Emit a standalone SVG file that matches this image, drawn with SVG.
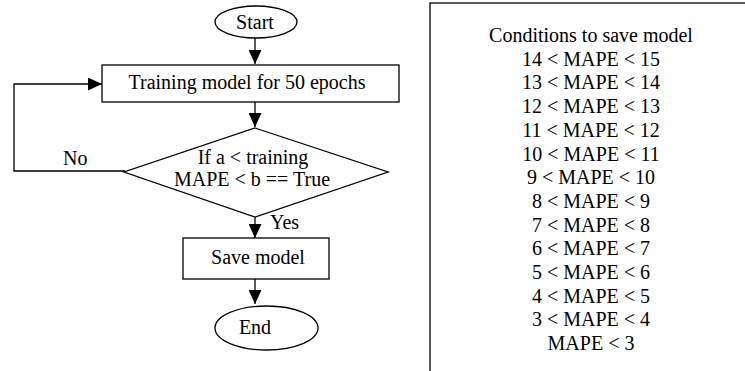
<svg xmlns="http://www.w3.org/2000/svg" width="745" height="371" viewBox="0 0 745 371" font-family="'Liberation Serif', 'DejaVu Serif', serif" font-size="20">
<style>
.s{fill:#fff;stroke:#000;stroke-width:1.3}
.c{fill:none;stroke:#000;stroke-width:1.3}
text{font-family:'Liberation Serif','DejaVu Serif',serif;font-size:20px;fill:#000}
.m{text-anchor:middle}
</style>
<defs>
<marker id="ah" markerWidth="14" markerHeight="13" refX="14" refY="6.5" orient="auto" markerUnits="userSpaceOnUse">
<path d="M0,0 L14,6.5 L0,13 Z" fill="#000"/>
</marker>
</defs>
<rect width="745" height="371" fill="#fff"/>
<g id="connectors">
<line class="c" x1="255" y1="38" x2="255" y2="64" marker-end="url(#ah)"/>
<line class="c" x1="255" y1="102" x2="255" y2="127" marker-end="url(#ah)"/>
<line class="c" x1="255" y1="217" x2="255" y2="238" marker-end="url(#ah)"/>
<line class="c" x1="255" y1="279" x2="255" y2="304" marker-end="url(#ah)"/>
<polyline class="c" points="125,171 14,171 14,84 102,84" marker-end="url(#ah)"/>
<text x="63" y="165">No</text>
<text x="270" y="229">Yes</text>
</g>
<g id="start">
<ellipse class="s" cx="256" cy="22" rx="41" ry="16"/>
<text class="m" x="255" y="29">Start</text>
</g>
<g id="train">
<rect class="s" x="102" y="65" width="297" height="37"/>
<text class="m" x="247" y="89">Training model for 50 epochs</text>
</g>
<g id="decision">
<polygon class="s" points="255,128 388,172 255,217 124,172"/>
<text class="m" x="253" y="164">If a &lt; training</text>
<text class="m" x="252" y="186">MAPE &lt; b == True</text>
</g>
<g id="save">
<rect class="s" x="183" y="238" width="146" height="41"/>
<text class="m" x="258" y="264">Save model</text>
</g>
<g id="end">
<ellipse class="s" cx="266.5" cy="328" rx="51.5" ry="22"/>
<text class="m" x="255" y="334">End</text>
</g>
<g id="conditions">
<rect class="s" x="430" y="3" width="340" height="390"/>
<text class="m" x="591" y="42">Conditions to save model</text>
<text class="m" x="591" y="65.7">14 &lt; MAPE &lt; 15</text>
<text class="m" x="591" y="89.4">13 &lt; MAPE &lt; 14</text>
<text class="m" x="591" y="113.1">12 &lt; MAPE &lt; 13</text>
<text class="m" x="591" y="136.8">11 &lt; MAPE &lt; 12</text>
<text class="m" x="591" y="160.5">10 &lt; MAPE &lt; 11</text>
<text class="m" x="591" y="184.2">9 &lt; MAPE &lt; 10</text>
<text class="m" x="591" y="207.9">8 &lt; MAPE &lt; 9</text>
<text class="m" x="591" y="231.6">7 &lt; MAPE &lt; 8</text>
<text class="m" x="591" y="255.3">6 &lt; MAPE &lt; 7</text>
<text class="m" x="591" y="279">5 &lt; MAPE &lt; 6</text>
<text class="m" x="591" y="302.7">4 &lt; MAPE &lt; 5</text>
<text class="m" x="591" y="326.4">3 &lt; MAPE &lt; 4</text>
<text class="m" x="591" y="350.1">MAPE &lt; 3</text>
</g>
</svg>
